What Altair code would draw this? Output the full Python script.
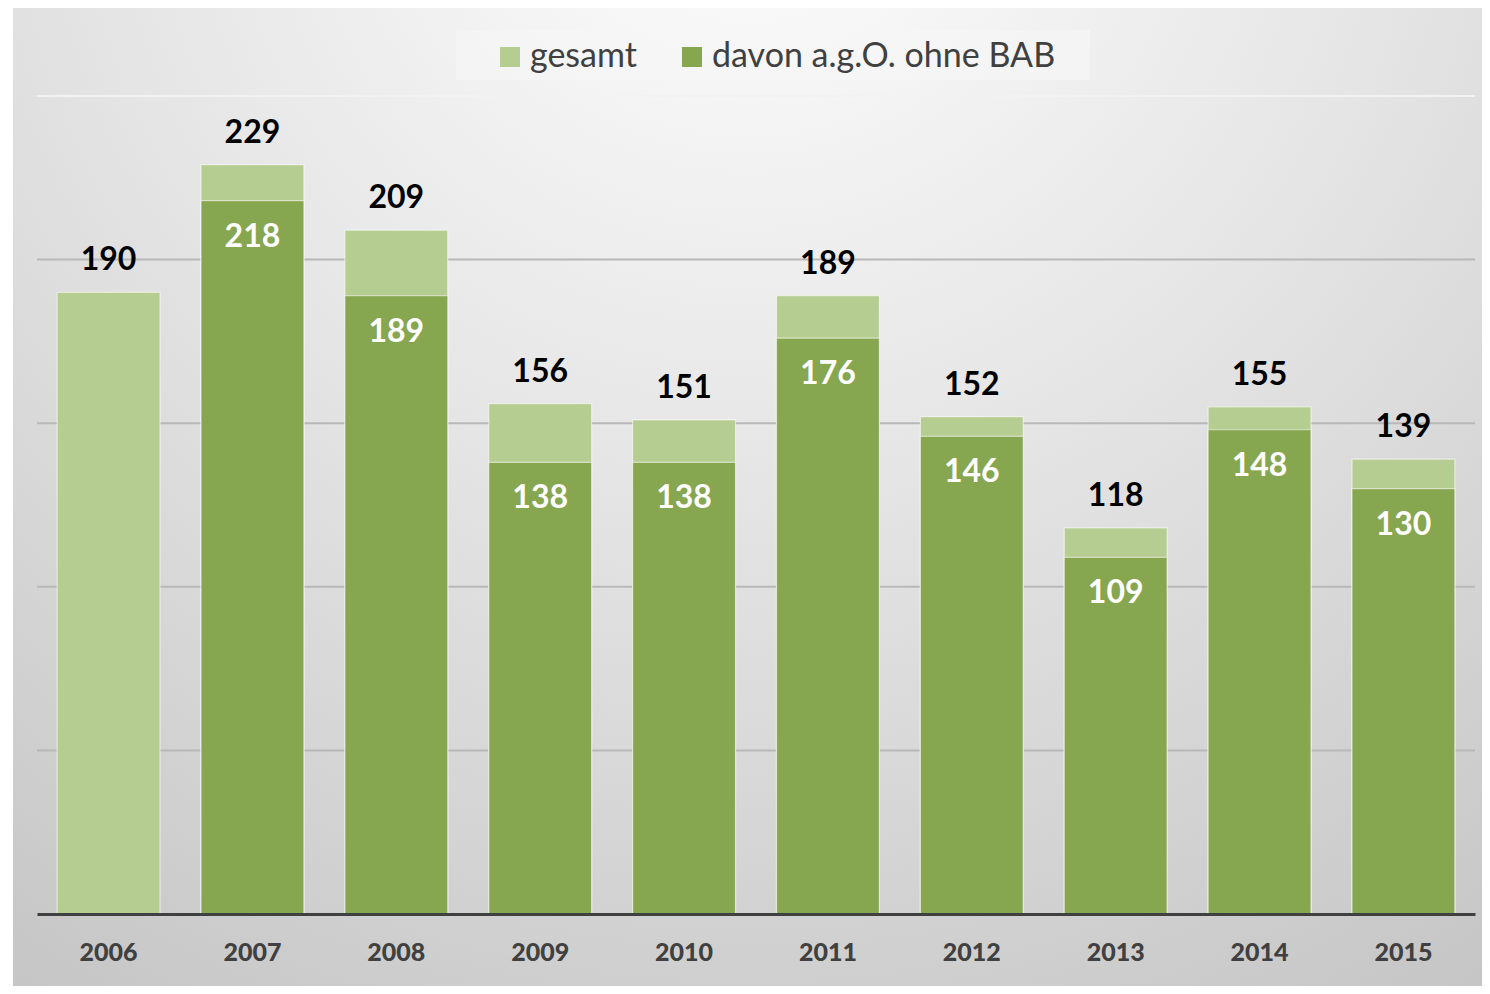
import altair as alt
import pandas as pd

years = ["2006", "2007", "2008", "2009", "2010", "2011", "2012", "2013", "2014", "2015"]
gesamt = [190, 229, 209, 156, 151, 189, 152, 118, 155, 139]
davon = [None, 218, 189, 138, 138, 176, 146, 109, 148, 130]
series_names = ["gesamt", "davon a.g.O. ohne BAB"]
series_colors = ["#b6cd91", "#87a650"]
grid_values = [50, 100, 150, 200]

rows = []
for y, g in zip(years, gesamt):
    rows.append({"year": y, "series": series_names[0], "value": g})
for y, d in zip(years, davon):
    if d is not None:
        rows.append({"year": y, "series": series_names[1], "value": d})
df = pd.DataFrame(rows)

W, H = 1438, 818
PL, PT, PR, PB = 29, 88, 7, 72

x_enc = alt.X("year:O", sort=years,
              scale=alt.Scale(paddingInner=0.285, paddingOuter=0.14),
              axis=alt.Axis(title=None, labelAngle=0, labelFont="Lato", labelFontSize=25,
                            labelFontWeight=900, labelColor="#404040", labelPadding=26,
                            ticks=False, domainColor="#404040", domainWidth=3, grid=False,
                            zindex=2))
y_scale = alt.Scale(domain=[0, 250], nice=False)

bg = alt.Chart(alt.Data(values=[{}])).mark_rect(
    color=alt.Gradient(gradient="radial", x1=0.5, y1=0.05, r1=0.0, x2=0.5, y2=0.05, r2=0.95,
                       stops=[alt.GradientStop(color="#ffffff", offset=0),
                              alt.GradientStop(color="#e6e6e6", offset=0.45),
                              alt.GradientStop(color="#c4c4c4", offset=1)])
).encode(x=alt.value(-24), x2=alt.value(W + PR), y=alt.value(-PT), y2=alt.value(H + PB))

legend_box = alt.Chart(alt.Data(values=[{}])).mark_rect(color="#f7f7f7", opacity=0.6).encode(
    x=alt.value(419), x2=alt.value(1053), y=alt.value(-66), y2=alt.value(-16))

grid = alt.Chart(pd.DataFrame({"v": grid_values})).mark_rule(color="#b8b8b8", strokeWidth=2).encode(
    y=alt.Y("v:Q", scale=y_scale, axis=None))
top_line = alt.Chart(pd.DataFrame({"v": [250]})).mark_rule(color="#f2f2f2", strokeWidth=2).encode(
    y=alt.Y("v:Q", scale=y_scale, axis=None))

bars = alt.Chart(df).mark_bar(stroke="white", strokeOpacity=0.55, strokeWidth=1.2).encode(
    x=x_enc,
    y=alt.Y("value:Q", scale=y_scale, stack=None,
            axis=alt.Axis(title=None, labels=False, ticks=False, domain=False, grid=False)),
    color=alt.Color("series:N", sort=series_names,
                    scale=alt.Scale(domain=series_names, range=series_colors),
                    legend=alt.Legend(title=None, orient="none", legendX=456, legendY=-56,
                                      direction="horizontal", symbolType="square", symbolSize=400,
                                      symbolStrokeWidth=0, labelFont="Lato", labelFontSize=34,
                                      labelColor="#404040", labelOffset=3, columnPadding=38,
                                      labelLimit=0)),
    order=alt.Order("series:N", sort="descending"),
)

top_labels = alt.Chart(df).transform_filter(alt.datum.series == series_names[0]).mark_text(
    font="Lato", fontSize=32, fontWeight="bold", color="#000000", baseline="alphabetic", dy=-22
).encode(x=alt.X("year:O", sort=years), y=alt.Y("value:Q", scale=y_scale), text="value:Q")

in_labels = alt.Chart(df).transform_filter(alt.datum.series == series_names[1]).mark_text(
    font="Lato", fontSize=32, fontWeight="bold", color="#ffffff", baseline="alphabetic", dy=46
).encode(x=alt.X("year:O", sort=years), y=alt.Y("value:Q", scale=y_scale), text="value:Q")

chart = alt.layer(bg, legend_box, grid, top_line, bars, top_labels, in_labels).properties(
    width=W, height=H,
    padding={"left": PL, "top": PT, "right": PR, "bottom": PB},
    autosize=alt.AutoSizeParams(type="none"),
    background="white",
).configure_view(stroke=None)

chart.save("out.html", embed_options={"renderer": "svg", "actions": False})
